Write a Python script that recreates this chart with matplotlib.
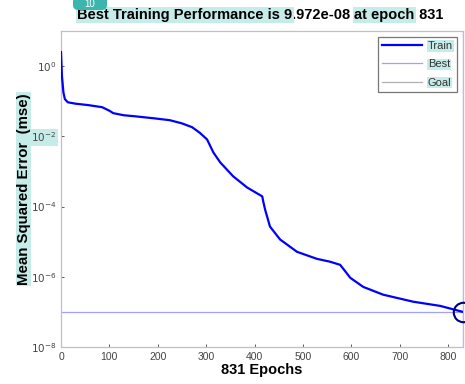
import matplotlib
matplotlib.use("Agg")
import matplotlib.pyplot as plt
from matplotlib.patches import FancyBboxPatch

plt.rcParams['font.family'] = ['Liberation Sans', 'DejaVu Sans']

epochs = [0, 2, 5, 8, 14, 30, 56, 85, 100, 108, 130, 153, 194, 225, 250, 271, 287,
          302, 315, 329, 356, 385, 416, 418, 422, 432, 453, 488, 529, 556, 577, 588,
          598, 625, 666, 728, 784, 831]
train_mse = [2.51, 0.513, 0.178, 0.115, 0.0933, 0.0851, 0.0776, 0.0676, 0.0537, 0.0457,
             0.0398, 0.0372, 0.0324, 0.0288, 0.0234, 0.0182, 0.0126,
             8.13e-3, 3.47e-3, 1.82e-3, 7.24e-4, 3.47e-4, 1.95e-4, 1.41e-4, 8.13e-5,
             2.69e-5, 1.15e-5, 5.13e-6, 3.24e-6, 2.69e-6, 2.19e-6, 1.41e-6,
             9.33e-7, 5.13e-7, 3.09e-7, 1.95e-7, 1.48e-7, 9.972e-8]
best_epoch = 831
best_perf = 9.972e-8
xticks = [0, 100, 200, 300, 400, 500, 600, 700, 800]
yticks = [1e0, 1e-2, 1e-4, 1e-6, 1e-8]
ytick_labels = ['$10^{0}$', '$10^{-2}$', '$10^{-4}$', '$10^{-6}$', '$10^{-8}$']

HL = '#c6ecea'

fig = plt.figure(figsize=(4.65, 3.84), dpi=100)
ax = fig.add_axes([61/465, 37/384, 402/465, 316/384])

ax.semilogy(epochs, train_mse, color='#0000ff', lw=1.6, label='Train', zorder=3)
ax.axvline(best_epoch, color='#a0a0ff', lw=0.9, label='Best', zorder=2)
ax.axhline(best_perf, color='#a0a0ff', lw=0.9, zorder=2)
ax.plot([], [], color='#b0b0b0', lw=0.9, label='Goal')
ax.plot([best_epoch], [best_perf], 'o', ms=14, mfc='none', mec='#000080', mew=1.5,
        zorder=4, clip_on=False)

ax.set_xlim(0, 831)
ax.set_ylim(1e-8, 10)
ax.set_xticks(xticks)
ax.set_yticks(yticks)
ax.set_yticklabels(ytick_labels)
ax.minorticks_off()
ax.tick_params(direction='in', length=2.5, width=0.6, colors='#444444', labelsize=7.5,
               labelcolor='#444444')
for lab in ax.get_yticklabels():
    if lab.get_text() == '$10^{-2}$':
        lab.set_bbox(dict(boxstyle='square,pad=0.15', fc=HL, ec='none'))
for s in ax.spines.values():
    s.set_color('#c0c0c0')
    s.set_linewidth(0.9)

ax.set_xlabel('831 Epochs', fontsize=10.5, fontweight='bold', labelpad=1)
ax.set_ylabel('Mean Squared Error  (mse)', fontsize=10.8, fontweight='bold', labelpad=0,
              bbox=dict(boxstyle='square,pad=0.05', fc=HL, ec='none'))

leg = ax.legend(loc='upper right', fontsize=8, frameon=True, fancybox=False,
                handlelength=3.6, handletextpad=0.5, borderpad=0.4, labelspacing=0.75,
                bbox_to_anchor=(1.0, 1.0))
leg.get_frame().set_edgecolor('#555555')
leg.get_frame().set_linewidth(0.9)
for t in leg.get_texts():
    t.set_color('#333333')
    t.set_bbox(dict(boxstyle='square,pad=0.05', fc=HL, ec='none'))

# title in pieces (some highlighted)
fs = 10.5
t1 = fig.text(77/465, 1 - 15/384, 'Best Training Performance is 9', fontsize=fs,
              fontweight='bold', va='center', ha='left',
              bbox=dict(boxstyle='square,pad=0.1', fc=HL, ec='none'))
t2 = ax.annotate('.972e-08 ', xy=(1, 0), xycoords=t1, va='bottom', ha='left',
                 fontsize=fs, fontweight='bold', annotation_clip=False)
t3 = ax.annotate('at epoch', xy=(1, 0), xycoords=t2, va='bottom', ha='left',
                 fontsize=fs, fontweight='bold', annotation_clip=False,
                 bbox=dict(boxstyle='square,pad=0.1', fc=HL, ec='none'))
t4 = ax.annotate(' 831', xy=(1, 0), xycoords=t3, va='bottom', ha='left',
                 fontsize=fs, fontweight='bold', annotation_clip=False)

# teal tab at top
tab = FancyBboxPatch((73/465, 1 - 10/384), 34/465, 20/384,
                     boxstyle='round,pad=0,rounding_size=0.012',
                     transform=fig.transFigure, fc='#3cb5ad', ec='none', zorder=5)
fig.patches.append(tab)
fig.text(90/465, 1 - 4/384, '10', color='white', fontsize=7, ha='center', va='center',
         zorder=6)

fig.savefig('out.png', dpi=100)
